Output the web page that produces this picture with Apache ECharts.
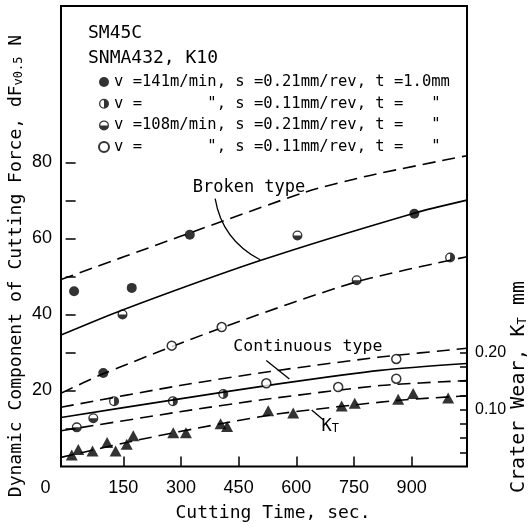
<!DOCTYPE html>
<html>
<head>
<meta charset="utf-8">
<script src="https://cdn.jsdelivr.net/npm/echarts@6/dist/echarts.min.js"></script>
<style>
html, body { margin: 0; padding: 0; background: #fff; }
#chart { width: 529px; height: 527px; }
</style>
</head>
<body>
<div id="chart"></div>
<script>
// measured points: cutting time (sec) vs dynamic force (N)
var fullT = [22, 98, 172, 323, 907];
var fullF = [46.1, 24.6, 47, 61, 66.5];
var halfVT = [126, 279, 410, 1000];
var halfVF = [17.2, 17.2, 19.1, 55];
var halfHT = [29, 72, 148, 603, 757];
var halfHF = [10.3, 12.7, 40, 60.8, 49];
var openT = [276, 406, 522, 709, 860, 860];
var openF = [31.8, 36.7, 21.9, 20.9, 23.1, 28.3];
// crater wear KT (mm)
var ktT = [16, 33, 70, 108, 130, 159, 176, 280, 313, 403, 420, 527, 592, 718, 752, 865, 904, 995];
var ktW = [0.020, 0.030, 0.027, 0.042, 0.027, 0.039, 0.054, 0.059, 0.059, 0.075, 0.070, 0.098, 0.094, 0.106, 0.111, 0.118, 0.128, 0.120];

// fitted curves
var brokenUpT = [-12, 297, 627, 792, 1044];
var brokenUpF = [49.2, 60.5, 72.3, 76.6, 81.8];
var brokenMidT = [-12, 148, 506, 904, 1044];
var brokenMidF = [34.6, 41.2, 54.2, 66.6, 70.1];
var brokenLowT = [-12, 98, 406, 757, 1044];
var brokenLowF = [19.3, 24.4, 36.5, 48.6, 55.2];
var contUpT = [-12, 297, 532, 818, 1044];
var contUpF = [15.6, 21.3, 25.0, 28.8, 31.1];
var contMidT = [-12, 297, 558, 818, 1044];
var contMidF = [12.9, 17.8, 21.8, 25.3, 27.1];
var contLowT = [-12, 297, 506, 818, 1044];
var contLowF = [9.4, 14.4, 17.5, 21.3, 22.6];
var ktLineT = [-12, 185, 403, 560, 865, 1044];
var ktLineW = [0.016, 0.046, 0.075, 0.093, 0.116, 0.124];

// ticks
var xTicks = [150, 300, 450, 600, 750, 900];
var xLabels = [0, 150, 300, 450, 600, 750, 900];
var yTicks = [10, 20, 30, 40, 50, 60, 70, 80];
var yLabels = [20, 40, 60, 80];
var kTicks = [0.025, 0.05, 0.075, 0.1, 0.125, 0.15, 0.175, 0.2];
var kLabels = [0.1, 0.2];

var legendText = {
  A: 'v =141m/min, s =0.21mm/rev, t =1.0mm',
  B: 'v =       ", s =0.11mm/rev, t =   "',
  C: 'v =108m/min, s =0.21mm/rev, t =   "',
  D: 'v =       ", s =0.11mm/rev, t =   "'
};

var MONO = '"DejaVu Sans Mono", "Liberation Mono", monospace';
var SANS = '"Liberation Sans", Arial, sans-serif';

// half filled circles (ring + half disc)
var ring = 'M50,0 A50,50 0 1,1 50,100 A50,50 0 1,1 50,0 Z M50,13 A37,37 0 1,0 50,87 A37,37 0 1,0 50,13 Z ';
var halfRight = 'path://' + ring + 'M50,0 A50,50 0 0,1 50,100 Z';
var halfBottom = 'path://' + ring + 'M100,50 A50,50 0 0,1 0,50 Z';

function pairs(xs, ys) {
  return xs.map(function (x, i) { return [x, ys[i]]; });
}
function curve(ts, vs, dashed, axis) {
  return {
    type: 'line',
    data: pairs(ts, vs),
    yAxisIndex: axis || 0,
    smooth: 0.25,
    showSymbol: false,
    silent: true,
    z: 2,
    lineStyle: { color: '#000', width: 1.6, type: dashed ? [13, 7] : 'solid' }
  };
}

var chart = echarts.init(document.getElementById('chart'));

chart.setOption({
  backgroundColor: '#fff',
  animation: false,
  title: {
    text: 'SM45C\nSNMA432, K10',
    left: 88, top: 21, padding: 0,
    textStyle: { fontFamily: MONO, fontSize: 18, fontWeight: 'normal', lineHeight: 25, color: '#000' }
  },
  legend: {
    orient: 'vertical',
    left: 98, top: 74, padding: 0,
    itemWidth: 10, itemHeight: 10, itemGap: 5.7,
    selectedMode: false,
    data: ['A', 'B', 'C', 'D'],
    formatter: function (name) { return legendText[name]; },
    textStyle: { fontFamily: MONO, fontSize: 15.5, lineHeight: 15, color: '#000' }
  },
  grid: {
    left: 61, right: 62, top: 6, bottom: 60.5,
    show: true, borderColor: '#000', borderWidth: 2
  },
  xAxis: {
    type: 'value', min: -12, max: 1044,
    axisLine: { show: false },
    splitLine: { show: false },
    axisTick: { inside: true, length: 10, customValues: xTicks, lineStyle: { color: '#000', width: 1.5 } },
    axisLabel: {
      customValues: xLabels, margin: 13, color: '#000',
      fontFamily: SANS, fontSize: 18,
      formatter: function (v) { return v === 0 ? '{z|0}' : String(v); },
      rich: { z: { padding: [0, 40, 0, 0], fontFamily: SANS, fontSize: 18, color: '#000' } }
    }
  },
  yAxis: [{
    type: 'value', min: 0, max: 460.5 / 3.8,
    axisLine: { show: false },
    splitLine: { show: false },
    axisTick: { inside: true, length: 10, customValues: yTicks, lineStyle: { color: '#000', width: 1.5 } },
    axisLabel: { customValues: yLabels, margin: 9, color: '#000', fontFamily: SANS, fontSize: 18 }
  }, {
    type: 'value', position: 'right', min: 0, max: 460.5 / 570,
    axisLine: { show: false },
    splitLine: { show: false },
    axisTick: { inside: true, length: 7, customValues: kTicks, lineStyle: { color: '#000', width: 1.5 } },
    axisLabel: {
      customValues: kLabels, margin: 8, color: '#000', fontFamily: SANS, fontSize: 16,
      formatter: function (v) { return v.toFixed(2); }
    }
  }],
  series: [
    curve(brokenUpT, brokenUpF, true),
    curve(brokenMidT, brokenMidF, false),
    curve(brokenLowT, brokenLowF, true),
    curve(contUpT, contUpF, true),
    curve(contMidT, contMidF, false),
    curve(contLowT, contLowF, true),
    curve(ktLineT, ktLineW, true, 1),
    { name: 'A', type: 'scatter', z: 3, data: pairs(fullT, fullF),
      symbol: 'circle', symbolSize: 10, itemStyle: { color: '#000' } },
    { name: 'B', type: 'scatter', z: 3, data: pairs(halfVT, halfVF),
      symbol: halfRight, symbolSize: 10, itemStyle: { color: '#000' } },
    { name: 'C', type: 'scatter', z: 3, data: pairs(halfHT, halfHF),
      symbol: halfBottom, symbolSize: 10, itemStyle: { color: '#000' } },
    { name: 'D', type: 'scatter', z: 3, data: pairs(openT, openF),
      symbol: 'circle', symbolSize: 9, itemStyle: { color: '#fff', borderColor: '#000', borderWidth: 1.5 } },
    { name: 'KT', type: 'scatter', z: 3, yAxisIndex: 1, data: pairs(ktT, ktW),
      symbol: 'triangle', symbolSize: [12, 11], itemStyle: { color: '#000' } }
  ]
});

// annotations, placed from data coordinates
function px(t, v, axis) {
  return chart.convertToPixel({ xAxisIndex: 0, yAxisIndex: axis || 0 }, [t, v]);
}
var bLab = px(477, 73.3), b0 = px(389, 70.5), bc = px(407, 59.6), b1 = px(506, 54.4);
var cLab = px(630, 31.5), c0 = px(522, 27.9), c1 = px(582, 23.0);
var kLab = px(688, 0.070, 1), k0 = px(640, 0.099, 1), k1 = px(670, 0.082, 1);
function subRich(size) {
  return {
    m: { fontFamily: MONO, fontSize: size, lineHeight: size, verticalAlign: 'top', fill: '#000', color: '#000' },
    s: { fontFamily: MONO, fontSize: 12, lineHeight: 12, padding: [8, 0, 0, 0], verticalAlign: 'bottom', fill: '#000', color: '#000' }
  };
}
var lineStyle = { stroke: '#000', lineWidth: 1.3, fill: null };

chart.setOption({
  graphic: [
    { type: 'text', x: bLab[0], y: bLab[1],
      style: { text: 'Broken type', fontFamily: MONO, fontSize: 17, fill: '#000', textAlign: 'center', textVerticalAlign: 'middle' } },
    { type: 'bezierCurve', shape: { x1: b0[0], y1: b0[1], cpx1: bc[0], cpy1: bc[1], x2: b1[0], y2: b1[1] }, style: lineStyle },
    { type: 'text', x: cLab[0], y: cLab[1],
      style: { text: 'Continuous type', fontFamily: MONO, fontSize: 16.5, fill: '#000', textAlign: 'center', textVerticalAlign: 'middle' } },
    { type: 'line', shape: { x1: c0[0], y1: c0[1], x2: c1[0], y2: c1[1] }, style: lineStyle },
    { type: 'text', x: kLab[0], y: kLab[1],
      style: { text: '{m|K}{s|T}', rich: subRich(17), textAlign: 'center', textVerticalAlign: 'middle' } },
    { type: 'line', shape: { x1: k0[0], y1: k0[1], x2: k1[0], y2: k1[1] }, style: lineStyle },
    { type: 'text', x: 273, y: 513,
      style: { text: 'Cutting Time, sec.', fontFamily: MONO, fontSize: 18, fill: '#000', textAlign: 'center', textVerticalAlign: 'middle' } },
    { type: 'text', x: 16, y: 266, rotation: Math.PI / 2,
      style: { text: '{m|Dynamic Component of Cutting Force, dF}{s|v0.5}{m| N}', rich: subRich(18), textAlign: 'center', textVerticalAlign: 'middle' } },
    { type: 'text', x: 519, y: 387, rotation: Math.PI / 2,
      style: { text: '{m|Crater Wear, K}{s|T}{m| mm}', rich: subRich(20), textAlign: 'center', textVerticalAlign: 'middle' } }
  ]
});
</script>
</body>
</html>
